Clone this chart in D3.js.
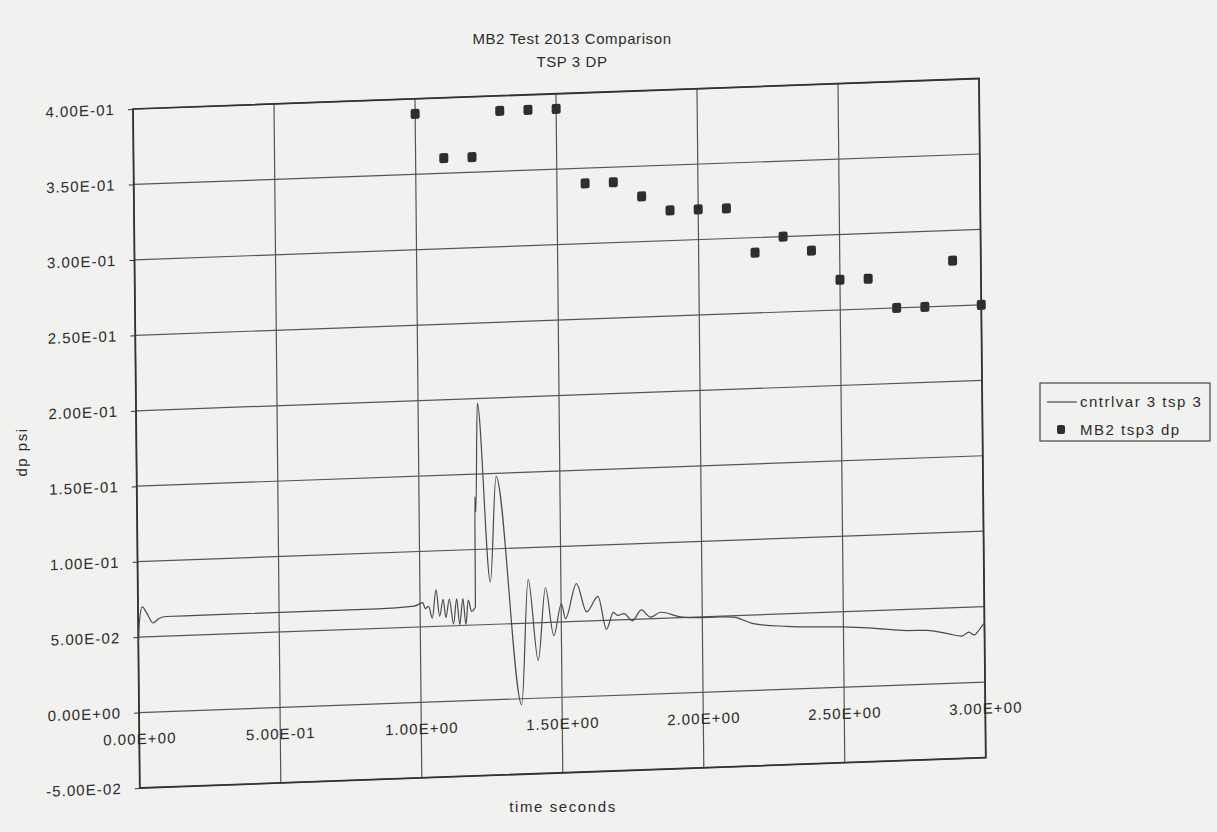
<!DOCTYPE html>
<html>
<head>
<meta charset="utf-8">
<script src="https://cdn.jsdelivr.net/npm/d3@7"></script>
<style>
  body { margin: 0; background: #f1f1ef; }
  text { font-family: "Liberation Sans", Arial, sans-serif; fill: #2c2c2c; }
</style>
</head>
<body>
<svg id="chart" width="1217" height="832"></svg>
<script>
// cntrlvar 3 tsp 3 (calculated)
var simTime = [0, 0.005, 0.015, 0.03, 0.053, 0.075, 0.1, 0.3, 0.6, 0.85, 0.98, 1.01,
  1.018, 1.03, 1.043, 1.057, 1.069, 1.082, 1.091, 1.104, 1.118, 1.13, 1.14, 1.152,
  1.162, 1.171, 1.183, 1.193, 1.196, 1.198, 1.201, 1.21, 1.25, 1.274, 1.357, 1.384,
  1.417, 1.445, 1.473, 1.501, 1.515, 1.555, 1.59, 1.631, 1.66, 1.685, 1.7, 1.723,
  1.752, 1.784, 1.817, 1.852, 1.923, 1.993, 2.063, 2.11, 2.18, 2.298, 2.415, 2.5,
  2.622, 2.722, 2.796, 2.87, 2.92, 2.944, 2.963, 2.98, 2.99, 3.0];
var simDp = [0.045, 0.061, 0.07, 0.066, 0.059, 0.062, 0.063, 0.063, 0.063, 0.063, 0.064, 0.066,
  0.062, 0.0635, 0.0556, 0.0744, 0.0567, 0.0678, 0.0556, 0.0678, 0.0512, 0.0678, 0.0506, 0.0678,
  0.0505, 0.0667, 0.059, 0.061, 0.062, 0.135, 0.125, 0.197, 0.078, 0.148, -0.004, 0.079,
  0.025, 0.073, 0.041, 0.062, 0.052, 0.075, 0.056, 0.066, 0.044, 0.055, 0.053, 0.054,
  0.049, 0.056, 0.051, 0.054, 0.0505, 0.0495, 0.0495, 0.049, 0.0443, 0.0417, 0.0405, 0.04,
  0.038, 0.036, 0.0357, 0.033, 0.031, 0.0335, 0.0315, 0.0345, 0.037, 0.039];

// MB2 tsp3 dp (test data)
var testTime = [1.0, 1.1, 1.2, 1.3, 1.4, 1.5, 1.6, 1.7, 1.8, 1.9, 2.0,
  2.1, 2.2, 2.3, 2.4, 2.5, 2.6, 2.7, 2.8, 2.9, 3.0];
var testDp = [0.39, 0.36, 0.36, 0.39, 0.39, 0.39, 0.34, 0.34, 0.33, 0.32, 0.32,
  0.32, 0.29, 0.30, 0.29, 0.27, 0.27, 0.25, 0.25, 0.28, 0.25];

var xTicks = [0, 0.5, 1, 1.5, 2, 2.5, 3];
var xTickLabels = ["0.00E+00", "5.00E-01", "1.00E+00", "1.50E+00", "2.00E+00", "2.50E+00", "3.00E+00"];
var yTicks = [-0.05, 0, 0.05, 0.1, 0.15, 0.2, 0.25, 0.3, 0.35, 0.4];
var yTickLabels = ["-5.00E-02", "0.00E+00", "5.00E-02", "1.00E-01", "1.50E-01",
  "2.00E-01", "2.50E-01", "3.00E-01", "3.50E-01", "4.00E-01"];

var svg = d3.select("#chart");
var W = 846, H = 679;

var x = d3.scaleLinear().domain([0, 3]).range([0, W]);
var y = d3.scaleLinear().domain([-0.05, 0.4]).range([H, 0]);

// titles
svg.append("text").attr("x", 572).attr("y", 44).attr("text-anchor", "middle")
  .style("font-size", "15px").style("letter-spacing", "0.6px").text("MB2 Test 2013 Comparison");
svg.append("text").attr("x", 572).attr("y", 67).attr("text-anchor", "middle")
  .style("font-size", "15px").style("letter-spacing", "0.6px").text("TSP 3 DP");

// the scanned page is a little tilted, so the plot is too
var plot = svg.append("g").attr("transform", "matrix(1,-0.036,0.01,1,133,109)");

// grid
plot.selectAll(".hgrid").data(yTicks).enter().append("line")
  .attr("class", "hgrid")
  .attr("x1", 0).attr("x2", W)
  .attr("y1", function(d) { return y(d); })
  .attr("y2", function(d) { return y(d); })
  .attr("stroke", "#555").attr("stroke-width", 1.2);

plot.selectAll(".vgrid").data(xTicks).enter().append("line")
  .attr("class", "vgrid")
  .attr("x1", function(d) { return x(d); })
  .attr("x2", function(d) { return x(d); })
  .attr("y1", 0).attr("y2", H)
  .attr("stroke", "#555").attr("stroke-width", 1.2);

plot.append("rect").attr("width", W).attr("height", H)
  .attr("fill", "none").attr("stroke", "#333").attr("stroke-width", 1.8);

// axes
var yAxis = plot.append("g")
  .call(d3.axisLeft(y).tickValues(yTicks)
    .tickFormat(function(d, i) { return yTickLabels[i]; })
    .tickSize(5).tickPadding(13));
yAxis.select(".domain").remove();
yAxis.selectAll("line").attr("stroke", "#333");
yAxis.selectAll("text").style("font-size", "15px").style("letter-spacing", "1.1px")
  .attr("fill", "#2c2c2c");

var xAxis = plot.append("g")
  .attr("transform", "translate(0," + y(0) + ")")
  .call(d3.axisBottom(x).tickValues(xTicks)
    .tickFormat(function(d, i) { return xTickLabels[i]; })
    .tickSize(0).tickPadding(21));
xAxis.select(".domain").remove();
xAxis.selectAll("text").style("font-size", "15px").style("letter-spacing", "1.1px")
  .attr("fill", "#2c2c2c");

// calculated trace
var simPts = simTime.map(function(t, i) { return [t, simDp[i]]; });
var line = d3.line()
  .x(function(d) { return x(d[0]); })
  .y(function(d) { return y(d[1]); })
  .curve(d3.curveMonotoneX);

plot.append("path")
  .datum(simPts)
  .attr("d", line)
  .attr("fill", "none")
  .attr("stroke", "#4a4a4a")
  .attr("stroke-width", 1.2);

// test points
var testPts = testTime.map(function(t, i) { return [t, testDp[i]]; });
plot.selectAll(".pt").data(testPts).enter().append("rect")
  .attr("class", "pt")
  .attr("x", function(d) { return x(d[0]) - 4.5; })
  .attr("y", function(d) { return y(d[1]) - 5; })
  .attr("width", 9).attr("height", 10).attr("rx", 2)
  .attr("fill", "#2e2e2e");

// axis titles
svg.append("text")
  .attr("transform", "translate(27,452) rotate(-90)")
  .attr("text-anchor", "middle")
  .style("font-size", "15px").style("letter-spacing", "1.5px").text("dp psi");
svg.append("text").attr("x", 563).attr("y", 812).attr("text-anchor", "middle")
  .style("font-size", "15px").style("letter-spacing", "1.6px").text("time seconds");

// legend
var leg = svg.append("g").attr("transform", "translate(1040,383)");
leg.append("rect").attr("width", 170).attr("height", 58)
  .attr("fill", "none").attr("stroke", "#444").attr("stroke-width", 1.2);
leg.append("line").attr("x1", 7).attr("x2", 37).attr("y1", 19).attr("y2", 19)
  .attr("stroke", "#4a4a4a").attr("stroke-width", 1.2);
leg.append("text").attr("x", 40).attr("y", 24).style("font-size", "15px")
  .style("letter-spacing", "1.5px").text("cntrlvar 3 tsp 3");
leg.append("rect").attr("x", 17).attr("y", 42).attr("width", 8).attr("height", 9).attr("rx", 2)
  .attr("fill", "#2e2e2e");
leg.append("text").attr("x", 40).attr("y", 52).style("font-size", "15px")
  .style("letter-spacing", "1.5px").text("MB2 tsp3 dp");
</script>
</body>
</html>
